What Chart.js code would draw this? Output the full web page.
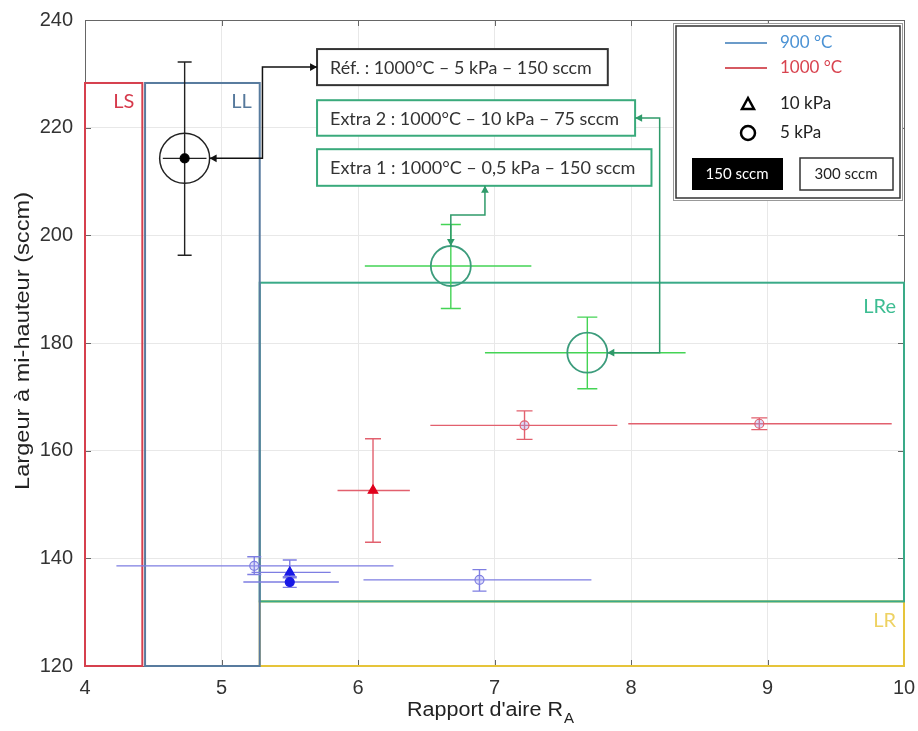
<!DOCTYPE html>
<html>
<head>
<meta charset="utf-8">
<script src="https://cdn.jsdelivr.net/npm/chart.js@4.4.1/dist/chart.umd.min.js"></script>
<style>
html,body{margin:0;padding:0;background:#fff;overflow:hidden}
canvas{display:block}
</style>
</head>
<body>
<canvas id="myChart" width="918" height="731"></canvas>
<script>
// axis ticks
const xTicks = [4, 5, 6, 7, 8, 9, 10];
const yTicks = [120, 140, 160, 180, 200, 220, 240];

// measured points: ref, extra 1, extra 2, 1000°C, 900°C
const pointGroup  = ['ref', 'extra', 'extra', '1000', '1000', '1000', '900', '900', '900', '900'];
const pointShape  = ['circle', 'circle', 'circle', 'triangle', 'circle', 'circle', 'circle', 'circle', 'triangle', 'circle'];
const pointFilled = [true, false, false, true, false, false, false, false, true, true];
const ratioX      = [4.73, 6.68, 7.68, 6.11, 7.22, 8.94, 6.89, 5.24, 5.50, 5.50];
const ratioLow    = [4.57, 6.05, 6.93, 5.85, 6.53, 7.98, 6.04, 4.23, 5.22, 5.16];
const ratioHigh   = [4.89, 7.27, 8.40, 6.38, 7.90, 9.91, 7.71, 6.26, 5.80, 5.86];
const widthY      = [214.3, 194.3, 178.2, 152.6, 164.7, 165.0, 136.0, 138.6, 137.4, 135.6];
const widthLow    = [196.3, 186.4, 171.5, 143.0, 162.1, 163.9, 133.9, 137.0, 136.4, 134.6];
const widthHigh   = [232.2, 202.0, 184.8, 162.2, 167.4, 166.1, 137.9, 140.3, 139.7, 136.6];

// regions
const regionNames = ['LR', 'LRe', 'LS', 'LL'];
const regionX0 = [5.28, 5.28, 4.00, 4.44];
const regionX1 = [10.0, 10.0, 4.42, 5.28];
const regionY0 = [120, 132.0, 120, 120];
const regionY1 = [132.0, 191.2, 228.3, 228.3];

// annotation boxes
const noteTexts = ['Réf. : 1000°C – 5 kPa – 150 sccm', 'Extra 2 : 1000°C – 10 kPa – 75 sccm', 'Extra 1 : 1000°C – 0,5 kPa – 150 sccm'];
const noteTarget = [0, 2, 1];
const noteX0 = [5.70, 5.70, 5.70];
const noteX1 = [7.83, 8.03, 8.15];
const noteY0 = [227.9, 218.5, 209.2];
const noteY1 = [234.6, 225.1, 216.0];

// legend labels
const legendTemps = ['900 °C', '1000 °C'];
const legendPressures = ['10 kPa', '5 kPa'];
const legendFlows = ['150 sccm', '300 sccm'];

const barColor = {ref: '#222', extra: '#44d455', '1000': '#e2606e', '900': '#7e7ee2'};
const fillColor = {ref: '#000', extra: '#44d455', '1000': '#e0001c', '900': '#1818e6'};
const capHalf = {ref: 7, extra: 10, '1000': 8, '900': 7};
const regionColor = {LS: '#d6404e', LL: '#587b9e', LRe: '#3aaa88', LR: '#e6c43a'};
const regionText = {LS: '#d63a4c', LL: '#56799c', LRe: '#3dbd92', LR: '#eed262'};

const ctx = document.getElementById('myChart').getContext('2d');

function fit_text(c, text, x, y, w, align){
    const m = c.measureText(text).width;
    c.save();
    c.translate(x, y);
    c.scale(w / m, 1);
    c.textAlign = 'left';
    c.fillText(text, align === 'center' ? -m / 2 : 0, 0);
    c.restore();
}

function arrow_head(c, x, y, dx, dy, size){
    const len = Math.hypot(dx, dy);
    const ux = dx / len, uy = dy / len;
    c.beginPath();
    c.moveTo(x, y);
    c.lineTo(x - ux * size - uy * size * 0.55, y - uy * size + ux * size * 0.55);
    c.lineTo(x - ux * size + uy * size * 0.55, y - uy * size - ux * size * 0.55);
    c.closePath();
    c.fill();
}

function draw_route(c, pts, color){
    c.strokeStyle = color; c.fillStyle = color; c.lineWidth = 1.5;
    c.beginPath();
    c.moveTo(pts[0][0], pts[0][1]);
    for (let k = 1; k < pts.length; k++) c.lineTo(pts[k][0], pts[k][1]);
    c.stroke();
    const n = pts.length;
    arrow_head(c, pts[0][0], pts[0][1], pts[0][0] - pts[1][0], pts[0][1] - pts[1][1], 7);
    arrow_head(c, pts[n-1][0], pts[n-1][1], pts[n-1][0] - pts[n-2][0], pts[n-1][1] - pts[n-2][1], 7);
}

const backPlugin = {
    id: 'back',
    beforeDatasetsDraw(chart){
        const c = chart.ctx, a = chart.chartArea, x = chart.scales.x, y = chart.scales.y;
        c.save();
        // axes box and inner ticks
        c.strokeStyle = '#666'; c.lineWidth = 1;
        c.strokeRect(a.left + 0.5, a.top + 0.5, a.right - a.left, a.bottom - a.top);
        c.beginPath();
        xTicks.forEach(v => {
            const p = Math.round(x.getPixelForValue(v)) + 0.5;
            c.moveTo(p, a.bottom); c.lineTo(p, a.bottom - 6);
            c.moveTo(p, a.top); c.lineTo(p, a.top + 6);
        });
        yTicks.forEach(v => {
            const p = Math.round(y.getPixelForValue(v)) + 0.5;
            c.moveTo(a.left, p); c.lineTo(a.left + 6, p);
            c.moveTo(a.right, p); c.lineTo(a.right - 6, p);
        });
        c.stroke();
        // x tick labels
        c.fillStyle = '#333';
        c.font = '20px "Liberation Sans"';
        c.textAlign = 'center'; c.textBaseline = 'middle';
        xTicks.forEach(v => c.fillText(String(v), x.getPixelForValue(v), a.bottom + 22));
        // regions
        regionNames.forEach((name, i) => {
            const x0 = x.getPixelForValue(regionX0[i]), x1 = x.getPixelForValue(regionX1[i]);
            const y0 = y.getPixelForValue(regionY0[i]), y1 = y.getPixelForValue(regionY1[i]);
            c.strokeStyle = regionColor[name]; c.lineWidth = 2;
            c.strokeRect(x0, y1, x1 - x0, y0 - y1);
            c.fillStyle = regionText[name];
            c.font = '20px Lato';
            c.textAlign = 'right'; c.textBaseline = 'top';
            const pad = name === 'LRe' ? 14 : 9;
            c.fillText(name, x1 - 8, y1 + pad);
        });
        // error bars
        for (let i = 0; i < ratioX.length; i++){
            const g = pointGroup[i];
            const px = x.getPixelForValue(ratioX[i]), py = y.getPixelForValue(widthY[i]);
            const x0 = x.getPixelForValue(ratioLow[i]), x1 = x.getPixelForValue(ratioHigh[i]);
            const y0 = y.getPixelForValue(widthLow[i]), y1 = y.getPixelForValue(widthHigh[i]);
            const h = capHalf[g];
            c.strokeStyle = barColor[g]; c.lineWidth = 1.4;
            c.beginPath();
            c.moveTo(x0, py); c.lineTo(x1, py);
            c.moveTo(px, y0); c.lineTo(px, y1);
            c.moveTo(px - h, y0); c.lineTo(px + h, y0);
            c.moveTo(px - h, y1); c.lineTo(px + h, y1);
            c.stroke();
        }
        c.restore();
    },
    afterDatasetsDraw(chart){
        const c = chart.ctx, a = chart.chartArea, x = chart.scales.x, y = chart.scales.y;
        c.save();
        // axis titles
        c.fillStyle = '#222';
        c.font = '20px "Liberation Sans"';
        c.textBaseline = 'middle';
        fit_text(c, "Rapport d'aire R", 407, 710, 156, 'left');
        c.font = '15px "Liberation Sans"';
        c.fillText('A', 564, 719);
        c.save();
        c.translate(23, 341);
        c.rotate(-Math.PI / 2);
        c.font = '20px "Liberation Sans"';
        fit_text(c, 'Largeur à mi-hauteur (sccm)', 0, 0, 298, 'center');
        c.restore();

        // annotation boxes
        const ring = [25, 20, 20];
        noteTexts.forEach((t, i) => {
            const bx0 = x.getPixelForValue(noteX0[i]), bx1 = x.getPixelForValue(noteX1[i]);
            const by0 = y.getPixelForValue(noteY1[i]), by1 = y.getPixelForValue(noteY0[i]);
            const col = i === 0 ? '#333' : '#3aaa7c';
            c.fillStyle = '#fff';
            c.fillRect(bx0, by0, bx1 - bx0, by1 - by0);
            c.strokeStyle = col; c.lineWidth = 2;
            c.strokeRect(bx0, by0, bx1 - bx0, by1 - by0);
            c.fillStyle = '#333';
            c.font = '18px Lato';
            c.textBaseline = 'middle';
            fit_text(c, t, bx0 + 13, (by0 + by1) / 2 + 1, bx1 - bx0 - 29, 'left');
            const j = noteTarget[i];
            const px = x.getPixelForValue(ratioX[j]), py = y.getPixelForValue(widthY[j]);
            const my = (by0 + by1) / 2;
            let pts;
            if (i === 0){
                const ex = x.getPixelForValue(5.30);
                pts = [[bx0, my], [ex, my], [ex, py], [px + ring[0], py]];
                draw_route(c, pts, '#111');
            } else if (i === 1){
                const ex = x.getPixelForValue(8.21);
                pts = [[bx1, my], [ex, my], [ex, py], [px + 20, py]];
                draw_route(c, pts, '#2f9a6a');
            } else {
                const sx = x.getPixelForValue(6.93), ey = y.getPixelForValue(203.8);
                pts = [[sx, by1], [sx, ey], [px, ey], [px, py - 20]];
                draw_route(c, pts, '#2f9a6a');
            }
        });

        // legend
        const L = a.right - 231, T = a.top + 3, W = 229, H = 177;
        c.fillStyle = '#fff';
        c.fillRect(L, T, W, H);
        c.strokeStyle = '#999'; c.lineWidth = 1;
        c.strokeRect(L + 0.5, T + 0.5, W, H);
        c.strokeStyle = '#333'; c.lineWidth = 1.5;
        c.strokeRect(L + 3, T + 3, W - 5, H - 5);
        c.font = '17px Lato';
        c.textAlign = 'left'; c.textBaseline = 'middle';
        const lineCol = ['#6b9bc9', '#d65a62'];
        const txtCol = ['#4b92d4', '#d8434f'];
        legendTemps.forEach((t, k) => {
            const ly = T + 20 + k * 25;
            c.strokeStyle = lineCol[k]; c.lineWidth = 2;
            c.beginPath(); c.moveTo(L + 52, ly); c.lineTo(L + 94, ly); c.stroke();
            c.fillStyle = txtCol[k];
            c.fillText(t, L + 107, ly);
        });
        c.strokeStyle = '#000'; c.lineWidth = 2.5; c.fillStyle = '#222';
        const ty = T + 81, cy = T + 110, mx = L + 75;
        c.beginPath(); c.moveTo(mx, ty - 6); c.lineTo(mx + 6, ty + 5); c.lineTo(mx - 6, ty + 5); c.closePath(); c.stroke();
        c.beginPath(); c.arc(mx, cy, 7, 0, Math.PI * 2); c.stroke();
        c.fillText(legendPressures[0], L + 107, ty);
        c.fillText(legendPressures[1], L + 107, cy);
        const fy = T + 135, fh = 32;
        c.fillStyle = '#000';
        c.fillRect(L + 19, fy, 91, fh);
        c.fillStyle = '#fff';
        c.font = '15px Lato';
        c.textAlign = 'center';
        c.fillText(legendFlows[0], L + 64, fy + fh / 2);
        c.strokeStyle = '#333'; c.lineWidth = 1.5;
        c.strokeRect(L + 127, fy, 93, fh);
        c.fillStyle = '#222';
        c.fillText(legendFlows[1], L + 173, fy + fh / 2);
        c.restore();
    }
};

function make_datasets(){
    const sets = [];
    for (let i = 0; i < ratioX.length; i++){
        const g = pointGroup[i];
        const isExtra = g === 'extra';
        sets.push({
            data: [{x: ratioX[i], y: widthY[i]}],
            pointStyle: pointShape[i],
            pointRadius: isExtra ? 0 : (pointShape[i] === 'triangle' ? 5.5 : 4.5),
            pointBorderWidth: 1.2,
            pointBorderColor: pointFilled[i] ? fillColor[g] : barColor[g],
            pointBackgroundColor: pointFilled[i] ? fillColor[g] : 'rgba(160,160,240,0.35)'
        });
    }
    // rings round the reference and extra points
    sets.push({
        data: [{x: ratioX[0], y: widthY[0]}],
        pointStyle: 'circle', pointRadius: 25, pointBorderWidth: 1.5,
        pointBorderColor: '#222', pointBackgroundColor: 'rgba(0,0,0,0)'
    });
    sets.push({
        data: [{x: ratioX[1], y: widthY[1]}, {x: ratioX[2], y: widthY[2]}],
        pointStyle: 'circle', pointRadius: 20, pointBorderWidth: 1.8,
        pointBorderColor: '#3c9c7c', pointBackgroundColor: 'rgba(0,0,0,0)'
    });
    return sets;
}

const tickFont = {family: 'Liberation Sans', size: 20};

const MyChart = new Chart(ctx, {
    type: 'scatter',
    data: {datasets: make_datasets()},
    options: {
        responsive: false,
        animation: false,
        events: [],
        layout: {autoPadding: false, padding: {top: 20, right: 14, left: 0, bottom: 0}},
        plugins: {legend: {display: false}, tooltip: {enabled: false}},
        scales: {
            x: {
                type: 'linear', min: 4, max: 10,
                afterBuildTicks: s => { s.ticks = xTicks.map(v => ({value: v})); },
                ticks: {display: false},
                grid: {color: '#e8e8e8', drawTicks: false},
                border: {display: false},
                afterFit: s => { s.height = 65; }
            },
            y: {
                type: 'linear', min: 120, max: 240,
                afterBuildTicks: s => { s.ticks = yTicks.map(v => ({value: v})); },
                ticks: {color: '#333', font: tickFont, padding: 12},
                grid: {color: '#e8e8e8', drawTicks: false},
                border: {display: false},
                afterFit: s => { s.width = 85; s.paddingTop = 0; s.paddingBottom = 0; }
            }
        }
    },
    plugins: [backPlugin]
});
</script>
</body>
</html>
